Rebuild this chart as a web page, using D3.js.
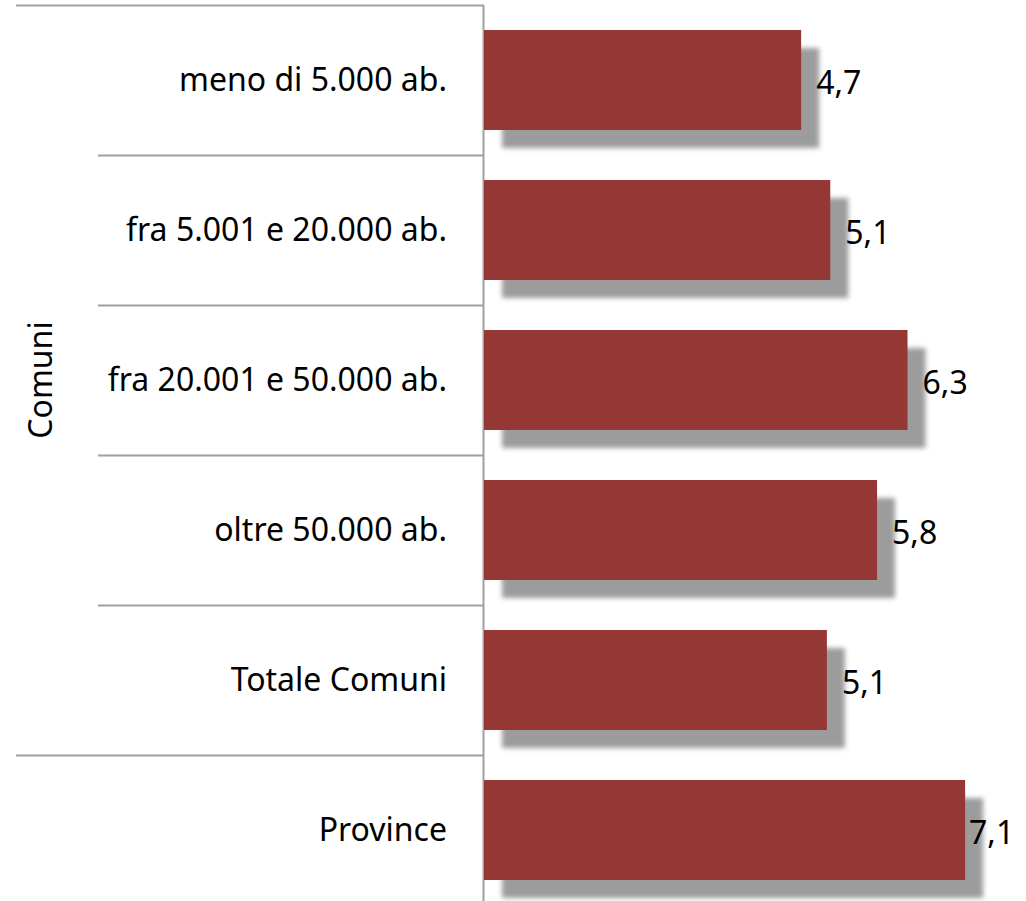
<!DOCTYPE html>
<html>
<head>
<meta charset="utf-8">
<script src="https://cdn.jsdelivr.net/npm/d3@7"></script>
<style>
  html, body { margin: 0; padding: 0; background: #fff; overflow: hidden; }
  svg { display: block; }
  text { font-family: "Noto Sans", "Open Sans", sans-serif; fill: #000; }
</style>
</head>
<body>
<div id="chart"></div>
<script>
// dati
const categories = [
    'meno di 5.000 ab.',
    'fra 5.001 e 20.000 ab.',
    'fra 20.001 e 50.000 ab.',
    'oltre 50.000 ab.',
    'Totale Comuni',
    'Province'
];
const values = [4.68, 5.11, 6.25, 5.8, 5.06, 7.1];
const groupLabel = 'Comuni';
const groupCount = 5; // le prime 5 categorie sono Comuni

const width = 1026;
const height = 901;
const axisX = 484;
const bandTop = 5;
const bandStep = 150;

const svg = d3.select('#chart').append('svg')
    .attr('width', width)
    .attr('height', height);

// filtro per ombra
svg.append('defs').append('filter')
    .attr('id', 'blur')
    .attr('x', '-10%').attr('y', '-10%')
    .attr('width', '120%').attr('height', '120%')
    .append('feGaussianBlur')
    .attr('stdDeviation', 2.5);

// scale
const yScale = d3.scaleBand()
    .domain(categories)
    .range([bandTop, bandTop + bandStep * categories.length])
    .paddingInner(1 / 3)
    .paddingOuter(1 / 6);

const xScale = d3.scaleLinear()
    .domain([0, 7.6])
    .range([axisX, axisX + 515]);

const fmt = v => d3.format('.1f')(v).replace('.', ',');

// linee di separazione
const lineColor = '#a0a0a0';
const sepY = d3.range(categories.length + 1).map(i => bandTop + i * bandStep);
svg.selectAll('.sep')
    .data(sepY)
    .enter()
    .append('line')
    .attr('class', 'sep')
    .attr('x1', (d, i) => (i === 0 || i === groupCount) ? 16 : 98)
    .attr('x2', axisX)
    .attr('y1', d => d + 0.5)
    .attr('y2', d => d + 0.5)
    .style('stroke', lineColor)
    .style('stroke-width', 2);

// asse verticale
svg.append('line')
    .attr('x1', axisX - 0.5)
    .attr('x2', axisX - 0.5)
    .attr('y1', bandTop)
    .attr('y2', height)
    .style('stroke', lineColor)
    .style('stroke-width', 2);

// etichette categorie
svg.selectAll('.cat')
    .data(categories)
    .enter()
    .append('text')
    .attr('class', 'cat')
    .attr('x', 447)
    .attr('y', d => yScale(d) + yScale.bandwidth() / 2)
    .attr('dy', '0.35em')
    .attr('text-anchor', 'end')
    .style('font-size', '32px')
    .text(d => d);

// etichetta gruppo
svg.append('text')
    .attr('transform', `translate(41,${bandTop + bandStep * groupCount / 2}) rotate(-90)`)
    .attr('dy', '0.35em')
    .attr('text-anchor', 'middle')
    .style('font-size', '32px')
    .text(groupLabel);

// ombre
svg.selectAll('.shadow')
    .data(values)
    .enter()
    .append('rect')
    .attr('class', 'shadow')
    .attr('x', xScale(0) + 18)
    .attr('y', (d, i) => yScale(categories[i]) + 18)
    .attr('width', d => xScale(d) - xScale(0))
    .attr('height', yScale.bandwidth())
    .style('fill', '#9c9c9c')
    .attr('filter', 'url(#blur)');

// barre
svg.selectAll('.bar')
    .data(values)
    .enter()
    .append('rect')
    .attr('class', 'bar')
    .attr('x', xScale(0))
    .attr('y', (d, i) => yScale(categories[i]))
    .attr('width', d => xScale(d) - xScale(0))
    .attr('height', yScale.bandwidth())
    .style('fill', '#953735');

// etichette valori
svg.selectAll('.val')
    .data(values)
    .enter()
    .append('text')
    .attr('class', 'val')
    .attr('x', d => Math.min(xScale(d) + 15, width - 57))
    .attr('y', (d, i) => yScale(categories[i]) + yScale.bandwidth() / 2 + 3)
    .attr('dy', '0.35em')
    .style('font-size', '32px')
    .text(d => fmt(d));
</script>
</body>
</html>
